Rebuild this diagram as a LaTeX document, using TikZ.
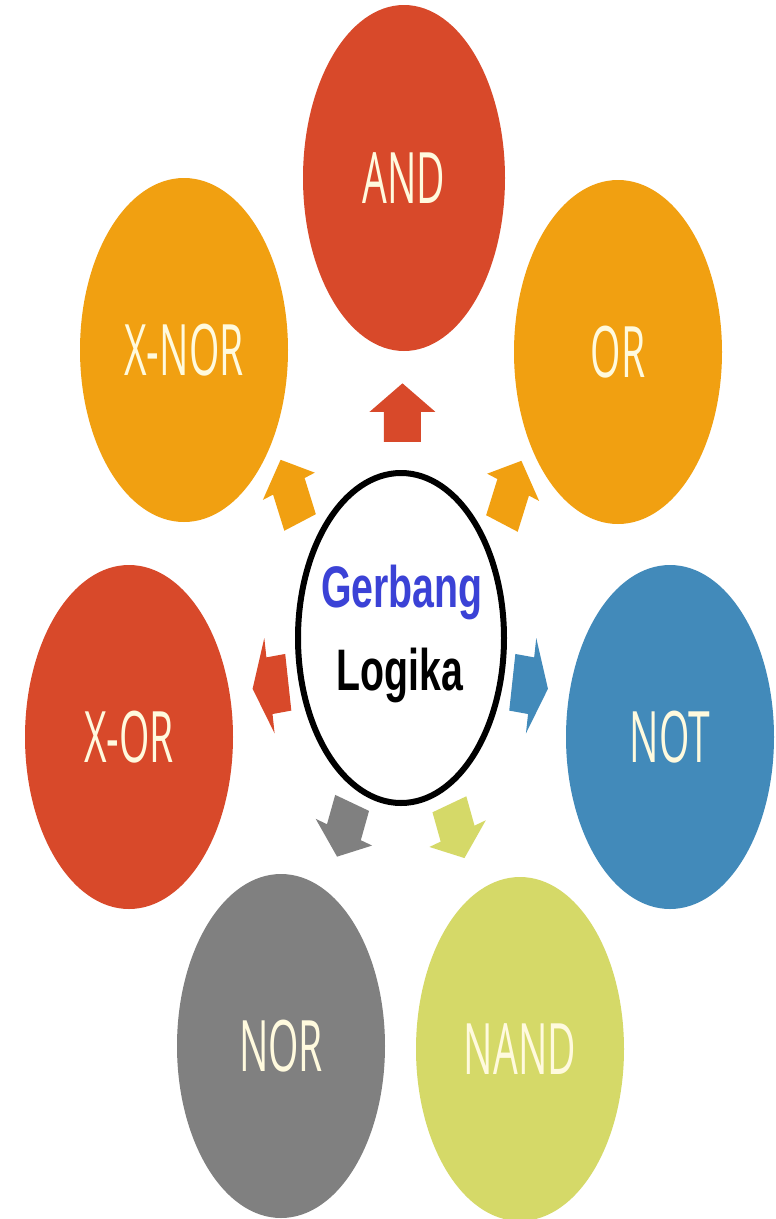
\documentclass[tikz,border=0pt]{standalone}
\usepackage{fontspec}
\setmainfont{Liberation Sans}
\newfontfamily\gatefont[FakeStretch=0.55]{Open Sans}
\newfontfamily\hubfont[FakeStretch=0.67]{Liberation Sans}
\usetikzlibrary{shapes.geometric,calc}

\definecolor{gateRed}{RGB}{216,73,42}
\definecolor{gateOrange}{RGB}{241,160,17}
\definecolor{gateBlue}{RGB}{66,138,186}
\definecolor{gateGray}{RGB}{128,128,128}
\definecolor{gateLime}{RGB}{213,217,104}
\definecolor{labelCream}{RGB}{255,250,222}
\definecolor{titleBlue}{RGB}{59,66,214}

\tikzset{
  gate/.style={ellipse, fill=#1, inner sep=0pt, outer sep=0pt,
    minimum width=208, minimum height=344,
    text=labelCream, font=\gatefont\fontsize{71}{80}\selectfont},
  hub/.style={ellipse, draw=black, line width=6, fill=white, inner sep=0pt,
    minimum width=206, minimum height=330},
  hubtext/.style={anchor=base, inner sep=0pt,
    font=\hubfont\bfseries\fontsize{58.6}{64}\selectfont},
}

% block arrow: colour, centre coordinate, angle, length, head half width,
% shaft half width, head length (drawn in an upright frame, then stretched)
\newcommand\blockarrow[7]{%
  \fill[#1, shift={(#2)}, yscale=1.3, rotate=#3]
    (-#4/2, -#6) -- (#4/2-#7, -#6) -- (#4/2-#7, -#5) -- (#4/2, 0)
    -- (#4/2-#7, #5) -- (#4/2-#7, #6) -- (-#4/2, #6) -- cycle;
}

\begin{document}
\begin{tikzpicture}[x=1pt, y=1pt]
  \useasboundingbox[fill=white] (0,0) rectangle (776,-1219);

  % outer ring of gates
  \node[gate=gateRed, minimum width=202, minimum height=346] (and) at (404,-178) {AND};
  \node[gate=gateOrange] (or)   at (618,-352) {OR};
  \node[gate=gateOrange] (xnor) at (184,-350) {X-NOR};
  \node[gate=gateRed]    (xor)  at (129,-737) {X-OR};
  \node[gate=gateBlue]   (not)  at (670,-737) {NOT};
  \node[gate=gateGray]   (nor)  at (281,-1046) {NOR};
  \node[gate=gateLime]   (nand) at (520,-1049) {NAND};

  % central hub
  \node[hub] (hub) at (401,-638) {};
  \node[hubtext, text=titleBlue] (t1) at (402,-607) {Gerbang};
  \node[hubtext, text=black]     (t2) at (400,-690) {Logika};

  % arrows from the hub towards each gate
  \coordinate (aand)  at ($(hub)!0.49!(and)$);
  \coordinate (aor)   at ($(hub)!0.51!(or)$);
  \coordinate (axnor) at ($(hub)!0.51!(xnor)$);
  \coordinate (axor)  at ($(hub)!0.48!(xor)$);
  \coordinate (anot)  at ($(hub)!0.48!(not)$);
  \coordinate (anor)  at ($(hub)!0.47!(nor)$);
  \coordinate (anand) at ($(hub)!0.47!(nand)$);

  \blockarrow{gateRed}{aand}{90}{45}{33}{18.5}{22}
  \blockarrow{gateOrange}{aor}{68}{52}{28}{17}{22}
  \blockarrow{gateOrange}{axnor}{112}{52}{28}{17}{22}
  \blockarrow{gateRed}{axor}{188}{36}{37}{22}{17}
  \blockarrow{gateBlue}{anot}{-8}{36}{37}{22}{17}
  \blockarrow{gateGray}{anor}{-110}{44}{30}{18}{20}
  \blockarrow{gateLime}{anand}{-70}{44}{30}{18}{20}
\end{tikzpicture}
\end{document}
